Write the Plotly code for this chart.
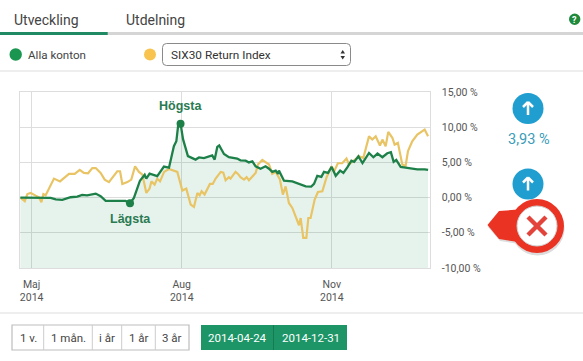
import pandas as pd
import plotly.graph_objects as go

W, H = 583, 361
START = pd.Timestamp("2014-04-24")

# Day offsets from the start date and percent values
konton_days = [0, 8.5, 18.7, 21.8, 25.8, 30.9, 35, 38, 41, 46.3, 49.3, 52.4, 58.5, 64.6, 67.3, 69.7, 73.4, 76.3, 77.3,
               79.3, 84, 88.1, 91.2, 94.2, 95.7, 96.9, 98.3, 99.8, 102.8, 107.5, 109.6, 112.6, 117.7, 119.2, 120.8, 122,
               124.9, 127.9, 133, 135, 138.2, 140.2, 142.3, 144.3, 147.3, 150.4, 152.5, 154.5, 156.6, 158, 158.6, 161.7,
               166.8, 172, 175, 178.4, 180.1, 182.1, 184.6, 186.2, 188.7, 190.9, 193.4, 196.1, 198.1, 200.5, 203, 204.7,
               207.3, 209.8, 213.8, 216.5, 219, 222, 225, 227.2, 228.9, 230.5, 233.2, 236.2, 239.3, 243.4, 247.9, 250]
konton_pct = [0, 0, -0.05, -0.24, -0.33, 0.05, 0.14, 0.38, 0.33, 0.57, 0.19, -0.47, -0.47, -0.47, -0.8, -0.05, 2.4, 3.25, 2.7,
              3.4, 3.05, 4.4, 4.25, 7.3, 8.0, 10.4, 10.5, 8.3, 5.9, 5.4, 5.7, 5.6, 6.0, 5.4, 7.2, 7.4,
              6.2, 5.73, 5.54, 5.3, 5.25, 5.0, 5.16, 4.45, 4.1, 4.45, 4.1, 3.65, 3.83, 3.36, 3.83, 2.4,
              2.3, 1.85, 1.6, 1.56, 1.94, 3.1, 2.94, 3.65, 3.5, 4.36, 3.1, 3.83, 3.5, 4.3, 5.25, 5.07,
              5.87, 4.9, 6.34, 5.73, 6.25, 5.73, 6.3, 6.44, 5.07, 5.35, 4.36, 4.26, 4.12, 4.02, 4.02, 3.93]

six30_days = [0, 1.3, 2.8, 4.4, 6.4, 9.5, 11.5, 13, 14.2, 15.6, 20.7, 24.4, 29.9, 33.4, 36.5, 39, 41.6, 44.2, 46.3, 49.3,
              51.8, 54.4, 59.5, 61.2, 62.6, 65.7, 68.1, 70.4, 72.8, 74.9, 77.3, 79.3, 80.4, 82.4, 84, 85.7, 88.2, 91.2,
              96.3, 99.4, 101.8, 104.5, 106.5, 108.6, 110, 111.2, 113, 116.3, 118, 119.8, 122.9, 124.5, 125.9, 127.9, 128.9,
              132, 133.5, 135, 137.2, 138.8, 140.2, 144.3, 145.7, 148.4, 150.4, 152.5, 154.5, 156.6, 159.2, 161, 162.7,
              164.7, 166.8, 169.4, 170.9, 171.9, 173.5, 175.4, 176.6, 178, 180.5, 182.5, 185.2, 187.8, 190.9, 192.3,
              194.7, 197.4, 200, 201.5, 204, 207.7, 210.3, 213.8, 215.8, 217.9, 220.5, 222, 224, 225.6, 228.1, 229.5,
              231.5, 234.2, 236.2, 237.7, 240.3, 243.4, 247.9, 250]
six30_pct = [0, -0.3, -0.5, 0.5, 0.66, 0.28, 0.05, -0.66, 0.5, 0.33, 2.7, 2.3, 3.36, 3.36, 3.93, 3.5, 3.46, 4.2, 4.2, 3.5,
             2.56, 2.2, 3.74, 3.74, 1.94, 2.2, 2.56, 4.45, 3.65, 3.27, 0.66, 1.28, 2.3, 1.85, 2.7, 2.3, 3.65, 4.07,
             3.65, 1.0, 1.28, -1.0, -1.33, 0.66, 0.33, 0.9, 0.43, 1.94, 1.94, 2.7, 3.65, 3.55, 2.46, 2.9, 2.7,
             3.65, 3.36, 2.9, 2.56, 2.9, 2.46, 3.5, 4.7, 5.35, 5.07, 4.7, 3.36, 3.65, 2.56, 0.43, 1.6,
             -0.76, -1.47, -3.1, -3.93, -2.9, -5.73, -5.73, -2.9, -2.9, -0.28, 0.8, 0.9, 2.9, 4.45, 3.65,
             4.88, 4.88, 5.54, 4.7, 5.16, 5.87, 5.63, 8.7, 8.24, 8.7, 7.4, 8.24, 7.3, 9.33, 8.5, 7.53,
             7.77, 4.7, 4.45, 6.6, 8.0, 8.95, 9.66, 8.7]

extreme_days = [67.3, 98.3]
extreme_pct = [-0.8, 10.5]
extreme_labels = ["Lägsta", "Högsta"]

y_ticks = [15, 10, 5, 0, -5, -10]
y_labels = ["15,00 %", "10,00 %", "5,00 %", "0,00 %", "-5,00 %", "-10,00 %"]
x_ticks = ["2014-05-01", "2014-08-01", "2014-11-01"]
x_labels = ["Maj<br>2014", "Aug<br>2014", "Nov<br>2014"]
range_buttons = ["1 v.", "1 mån.", "i år", "1 år", "3 år"]
date_buttons = ["2014-04-24", "2014-12-31"]


def to_dates(days):
    return [START + pd.Timedelta(days=d) for d in days]


def px(x):
    return x / W


def py(y):
    return 1 - y / H


GREEN = "#1d8048"
YELLOW = "#e9c465"
GRID = "#dddddd"
BLUE = "#1f9ecf"
RED = "#ea3323"
FONT = "Roboto"

fig = go.Figure()
fig.add_trace(go.Scatter(x=to_dates(konton_days), y=[-10] * len(konton_days), mode="lines",
                         line=dict(width=0), hoverinfo="skip", showlegend=False))
fig.add_trace(go.Scatter(x=to_dates(konton_days), y=konton_pct, mode="none", fill="tonexty",
                         fillcolor="rgba(30,150,90,0.11)", hoverinfo="skip", showlegend=False))
fig.add_trace(go.Scatter(x=to_dates(six30_days), y=six30_pct, mode="lines", name="SIX30 Return Index",
                         line=dict(color=YELLOW, width=2.2), showlegend=False))
fig.add_trace(go.Scatter(x=to_dates(konton_days), y=konton_pct, mode="lines", name="Alla konton",
                         line=dict(color=GREEN, width=2.3), showlegend=False))
fig.add_trace(go.Scatter(x=to_dates(extreme_days), y=extreme_pct, mode="markers",
                         marker=dict(color=GREEN, size=8), showlegend=False))

shapes = []
annos = []


def rect(x0, y0, x1, y1, fill=None, line=None, lw=1):
    shapes.append(dict(type="rect", xref="paper", yref="paper", x0=px(x0), y0=py(y1), x1=px(x1), y1=py(y0),
                       fillcolor=fill or "rgba(0,0,0,0)", line=dict(color=line or "rgba(0,0,0,0)", width=lw if line else 0)))


def circle(cx, cy, r, fill, line=None, lw=1):
    shapes.append(dict(type="circle", xref="paper", yref="paper", x0=px(cx - r), y0=py(cy + r), x1=px(cx + r), y1=py(cy - r),
                       fillcolor=fill, line=dict(color=line or "rgba(0,0,0,0)", width=lw if line else 0)))


def seg(x0, y0, x1, y1, color, lw=1):
    shapes.append(dict(type="line", xref="paper", yref="paper", x0=px(x0), y0=py(y0), x1=px(x1), y1=py(y1),
                       line=dict(color=color, width=lw)))


def path(points, fill):
    d = "M " + " L ".join(f"{px(x):.5f},{py(y):.5f}" for x, y in points) + " Z"
    shapes.append(dict(type="path", xref="paper", yref="paper", path=d, fillcolor=fill, line=dict(width=0)))


def text(x, y, s, size=12, color="#444", anchor="left", family=FONT):
    annos.append(dict(xref="paper", yref="paper", x=px(x), y=py(y), text=s, showarrow=False, xanchor=anchor,
                      yanchor="middle", font=dict(family=family, size=size, color=color), borderpad=0, borderwidth=0))


def up_arrow(cx, cy):
    seg(cx, cy + 6.5, cx, cy - 6, "white", 2.5)
    seg(cx - 5, cy - 1.5, cx, cy - 6.5, "white", 2.5)
    seg(cx + 5, cy - 1.5, cx, cy - 6.5, "white", 2.5)


# Tabs
rect(0, 32, W, 35, fill="#d5d5d5")
rect(0, 32, 107.7, 35, fill="#1f8a63")
text(13.5, 20, "Utveckling", 14, "#444")
text(125.5, 20, "Utdelning", 14, "#444")
circle(574.7, 19.3, 5.7, "#1f8a3c")
text(574.7, 19.8, "<b>?</b>", 9, "white", "center")

# Legend row
circle(15.7, 54.5, 6.2, "#1b9650")
text(28, 55.5, "Alla konton", 11.6, "#444")
circle(150, 54.5, 6, "#f8c44f")
L, R, T, B = 162.5, 350.5, 43.5, 65.5
shapes.append(dict(type="path", xref="paper", yref="paper", fillcolor="white", line=dict(color="#8a8a8a", width=1),
                   path=(f"M {px(L+4)},{py(T)} L {px(R-4)},{py(T)} Q {px(R)},{py(T)} {px(R)},{py(T+4)} "
                         f"L {px(R)},{py(B-4)} Q {px(R)},{py(B)} {px(R-4)},{py(B)} L {px(L+4)},{py(B)} "
                         f"Q {px(L)},{py(B)} {px(L)},{py(B-4)} L {px(L)},{py(T+4)} Q {px(L)},{py(T)} {px(L+4)},{py(T)} Z")))
text(171.3, 55.5, "SIX30 Return Index", 11.8, "#333")
path([(340.5, 53.5), (345, 53.5), (342.7, 50)], "#333")
path([(340.5, 56), (345, 56), (342.7, 59.5)], "#333")
seg(0, 71, W, 71, "#dddddd", 1)

# Extreme labels
annos.append(dict(x=START + pd.Timedelta(days=extreme_days[0]), y=extreme_pct[0], xref="x", yref="y",
                  text=f"<b>{extreme_labels[0]}</b>", showarrow=False, yshift=-16,
                  font=dict(family="Liberation Sans", size=12.5, color="#2a7a52")))
annos.append(dict(x=START + pd.Timedelta(days=extreme_days[1]), y=extreme_pct[1], xref="x", yref="y",
                  text=f"<b>{extreme_labels[1]}</b>", showarrow=False, yshift=18,
                  font=dict(family="Liberation Sans", size=12.5, color="#2a7a52")))

# Right side indicators
circle(528, 108.5, 15.5, BLUE)
up_arrow(528, 108.5)
text(528.5, 139, "3,93 %", 14.5, "#3a9cb8", "center")
circle(528, 184, 15.5, BLUE)
up_arrow(528, 184)

# Close badge
path([(488, 227), (500, 213), (525, 211), (525, 245), (500, 241)], "#dcdcdc")
circle(537.5, 228.5, 27, "#dcdcdc")
path([(487.5, 225), (499, 211), (525, 209), (525, 243), (499, 239)], RED)
circle(537, 226, 27, RED)
circle(537, 226, 20, "white", "#cfcfcf", 1)
seg(528, 217, 546, 235, "#e2433a", 4.5)
seg(546, 217, 528, 235, "#e2433a", 4.5)

# Bottom bar
seg(0, 313, W, 313, "#dddddd", 1)
rect(12, 325, 189, 350, fill="white", line="#bdbdbd", lw=1.2)
for xd in [43.7, 92.3, 121.7, 155.3]:
    seg(xd, 325, xd, 350, "#cccccc", 1)
for cx, lab in zip([28, 68, 107, 138.5, 172], range_buttons):
    text(cx, 338, lab, 11.5, "#444", "center")
rect(201, 325, 347, 350, fill="#1d9567")
seg(273.5, 325, 273.5, 350, "#167a52", 1)
for cx, lab in zip([237, 311], date_buttons):
    text(cx, 338, lab, 11.5, "white", "center")

axis_font = dict(family=FONT, size=10.5, color="#555")
fig.update_layout(
    width=W, height=H, autosize=False, margin=dict(l=0, r=0, t=0, b=0, pad=0),
    paper_bgcolor="white", plot_bgcolor="white", showlegend=False,
    shapes=shapes, annotations=annos,
    xaxis=dict(domain=[px(20.2), px(429.7)], range=[START, START + pd.Timedelta(days=251)], tickmode="array",
               tickvals=x_ticks, ticktext=x_labels, showgrid=True, gridcolor=GRID, gridwidth=1.3, zeroline=False,
               showline=True, linecolor=GRID, linewidth=1, mirror=True, tickfont=axis_font, ticks="", automargin=False,
               ticklabelstandoff=6),
    yaxis=dict(domain=[py(268), py(92)], range=[-10, 15], side="right", tickmode="array", tickvals=y_ticks,
               ticktext=y_labels, showgrid=True, gridcolor=GRID, gridwidth=1.3, zeroline=False,
               showline=True, linecolor=GRID, linewidth=1, mirror=True, tickfont=axis_font, ticks="", automargin=False,
               ticklabelstandoff=9),
)

fig.write_html("out.html", post_script="document.body.style.margin='0';document.documentElement.style.overflow='hidden';",
               config=dict(displayModeBar=False))
